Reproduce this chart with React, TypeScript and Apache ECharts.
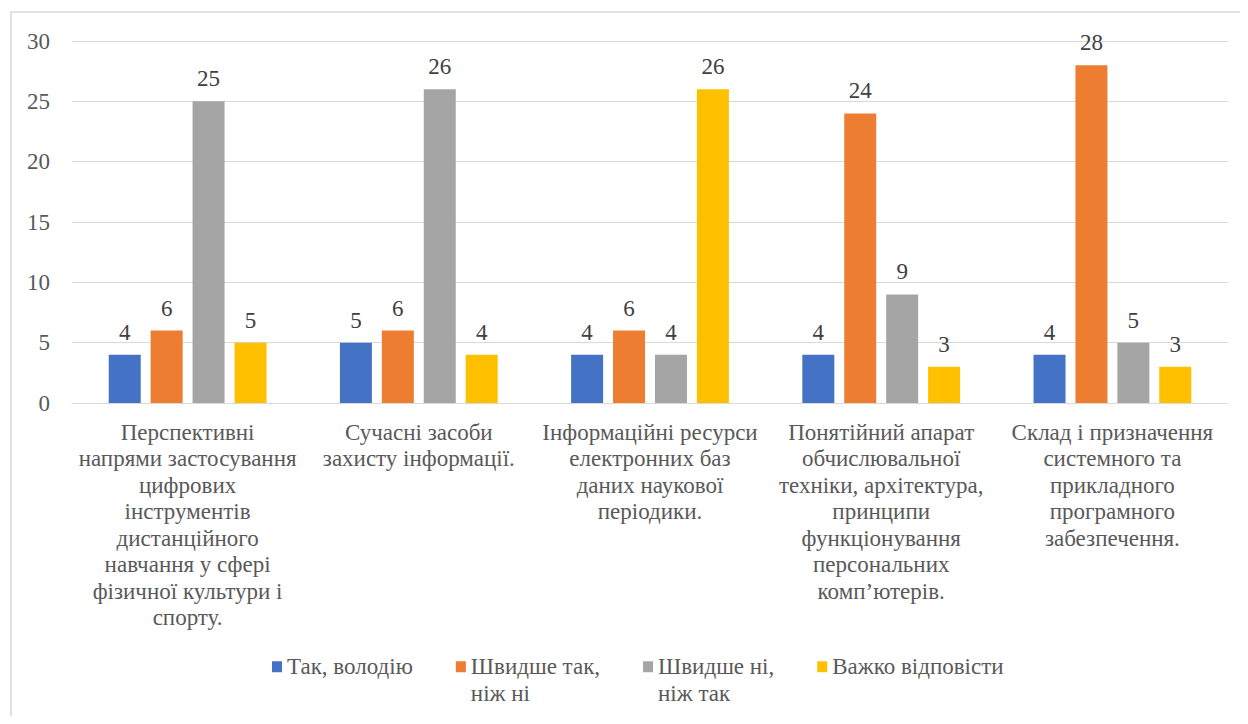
import React, { useEffect, useRef } from "react";
import * as echarts from "echarts";

const categories = [
  "Перспективні\nнапрями застосування\nцифрових\nінструментів\nдистанційного\nнавчання у сфері\nфізичної культури і\nспорту.",
  "Сучасні засоби\nзахисту інформації.",
  "Інформаційні ресурси\nелектронних баз\nданих наукової\nперіодики.",
  "Понятійний апарат\nобчислювальної\nтехніки, архітектура,\nпринципи\nфункціонування\nперсональних\nкомп’ютерів.",
  "Склад і призначення\nсистемного та\nприкладного\nпрограмного\nзабезпечення.",
];

const seriesNames = [
  "Так, володію",
  "Швидше так,\nніж ні",
  "Швидше ні,\nніж так",
  "Важко відповісти",
];

const yesValues = [4, 5, 4, 4, 4];
const ratherYesValues = [6, 6, 6, 24, 28];
const ratherNoValues = [25, 26, 4, 9, 5];
const hardValues = [5, 4, 26, 3, 3];

const colors = ["#4472C4", "#ED7D31", "#A5A5A5", "#FFC000"];

const FONT = "Liberation Serif";
const TEXT = "#595959";

export default function App() {
  const ref = useRef<HTMLDivElement>(null);
  useEffect(() => {
    if (!ref.current) return;
    const chart = echarts.init(ref.current, null, { renderer: "svg" });
    const allValues = [yesValues, ratherYesValues, ratherNoValues, hardValues];
    const FS = 23;
    const LH = 26.5;
    chart.setOption({
      animation: false,
      textStyle: { fontFamily: FONT },
      graphic: [
        {
          type: "rect",
          shape: { x: 3, y: 4, width: 1240, height: 720 },
          style: { fill: "none", stroke: "#d9d9d9", lineWidth: 1.5 },
          silent: true,
        },
      ],
      grid: { left: 64, right: 12, top: 33, bottom: 313 },
      legend: {
        left: 259,
        top: 614,
        icon: "rect",
        itemWidth: 10,
        itemHeight: 11,
        itemGap: 43,
        formatter: (n: string) => (n.includes("\n") ? "\n" + n : n),
        textStyle: {
          fontFamily: FONT,
          fontSize: FS,
          color: TEXT,
          lineHeight: LH,
        },
        data: seriesNames,
      },
      xAxis: {
        type: "category",
        data: categories,
        axisLine: { lineStyle: { color: "#d9d9d9", width: 1 } },
        axisTick: { show: false },
        axisLabel: {
          interval: 0,
          margin: 16,
          fontFamily: FONT,
          fontSize: FS,
          color: TEXT,
          lineHeight: LH,
          align: "center",
        },
      },
      yAxis: {
        type: "value",
        min: 0,
        max: 30,
        interval: 5,
        axisLine: { show: false },
        axisTick: { show: false },
        splitLine: { lineStyle: { color: "#d9d9d9", width: 1 } },
        axisLabel: {
          margin: 22,
          fontFamily: FONT,
          fontSize: FS,
          color: TEXT,
        },
      },
      series: seriesNames.map((name, i) => ({
        name,
        type: "bar",
        data: allValues[i],
        barWidth: 32,
        barGap: "31%",
        itemStyle: { color: colors[i] },
        label: {
          show: true,
          position: "top",
          distance: 11,
          fontFamily: FONT,
          fontSize: FS,
          color: "#404040",
        },
      })),
    });
    return () => chart.dispose();
  }, []);
  return <div ref={ref} style={{ width: 1232, height: 708 }} />;
}
